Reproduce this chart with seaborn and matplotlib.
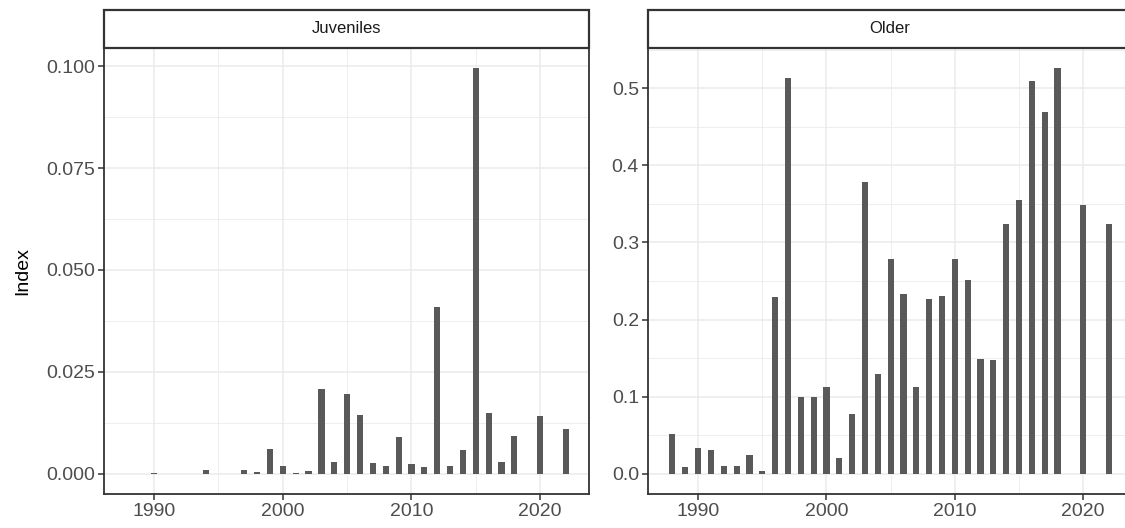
import pandas as pd
import matplotlib
matplotlib.use("Agg")
import matplotlib.pyplot as plt
from matplotlib.patches import Rectangle
from matplotlib.ticker import MultipleLocator, FixedLocator
import seaborn as sns

sns.set_theme(style="white")
plt.rcParams['font.family'] = ['Liberation Sans', 'DejaVu Sans']

# Juveniles index by year
juv_years = [1990, 1994, 1997, 1998, 1999, 2000, 2001, 2002, 2003, 2004, 2005,
             2006, 2007, 2008, 2009, 2010, 2011, 2012, 2013, 2014, 2015, 2016,
             2017, 2018, 2020, 2022]
juv_index = [0.0002, 0.0008, 0.0010, 0.0005, 0.0060, 0.0019, 0.0003, 0.0007,
             0.0208, 0.0029, 0.0196, 0.0143, 0.0026, 0.0018, 0.0091, 0.0023,
             0.0016, 0.0408, 0.0019, 0.0059, 0.0995, 0.0149, 0.0029, 0.0093,
             0.0141, 0.0110]

# Older fish index by year
old_years = [1988, 1989, 1990, 1991, 1992, 1993, 1994, 1995, 1996, 1997, 1998,
             1999, 2000, 2001, 2002, 2003, 2004, 2005, 2006, 2007, 2008, 2009,
             2010, 2011, 2012, 2013, 2014, 2015, 2016, 2017, 2018, 2020, 2022]
old_index = [0.052, 0.009, 0.034, 0.031, 0.010, 0.010, 0.024, 0.004, 0.229,
             0.513, 0.100, 0.100, 0.113, 0.021, 0.078, 0.379, 0.130, 0.279,
             0.233, 0.113, 0.227, 0.231, 0.278, 0.251, 0.149, 0.148, 0.324,
             0.355, 0.510, 0.469, 0.526, 0.349, 0.324]

panels = ["Juveniles", "Older"]
year_ticks = [1990, 2000, 2010, 2020]

juv = pd.DataFrame({"year": juv_years, "index": juv_index})
old = pd.DataFrame({"year": old_years, "index": old_index})

W, H = 1125, 528
fig = plt.figure(figsize=(W / 100, H / 100), dpi=100)
ax1 = fig.add_axes([104 / W, 34 / H, 485 / W, 446 / H])
ax2 = fig.add_axes([648 / W, 34 / H, 484 / W, 446 / H])

border = "#333333"
grid_c = "#ebebeb"
tick_c = "#4d4d4d"


def style_panel(ax, df, title, ymajor, yfmt):
    sns.barplot(data=df, x="year", y="index", native_scale=True, width=0.48,
                color="#595959", saturation=1, edgecolor="none", ax=ax, zorder=3)
    ymax = df["index"].max()
    ax.set_ylim(-0.05 * ymax, 1.05 * ymax)
    ax.set_xlim(1986.1, 2023.8)
    ax.xaxis.set_major_locator(FixedLocator(year_ticks))
    ax.xaxis.set_minor_locator(FixedLocator([1995, 2005, 2015]))
    ax.yaxis.set_major_locator(MultipleLocator(ymajor))
    ax.yaxis.set_minor_locator(MultipleLocator(ymajor / 2))
    ax.yaxis.set_major_formatter(yfmt)
    ax.grid(which="major", color=grid_c, linewidth=1.1, zorder=0)
    ax.grid(which="minor", color=grid_c, linewidth=0.6, zorder=0)
    ax.set_axisbelow(True)
    ax.set_xlabel("")
    ax.set_ylabel("")
    for s in ax.spines.values():
        s.set_color(border)
        s.set_linewidth(1.3)
    ax.tick_params(axis="both", which="major", length=4, width=1.1, color=border,
                   labelsize=14, labelcolor=tick_c, pad=2.5, left=True, bottom=True)
    ax.tick_params(axis="both", which="minor", length=0)
    strip = Rectangle((0, 1), 1, 38 / 446, transform=ax.transAxes, clip_on=False,
                      facecolor="white", edgecolor=border, linewidth=1.6)
    ax.add_patch(strip)
    ax.text(0.5, 1 + 19 / 446, title, transform=ax.transAxes, ha="center",
            va="center", fontsize=12, color="#1a1a1a")


style_panel(ax1, juv, panels[0], 0.025, "{x:.3f}")
style_panel(ax2, old, panels[1], 0.1, "{x:.1f}")

ax1.set_ylabel("Index", fontsize=14, color="black", labelpad=11)

fig.savefig("out.png", dpi=100)
